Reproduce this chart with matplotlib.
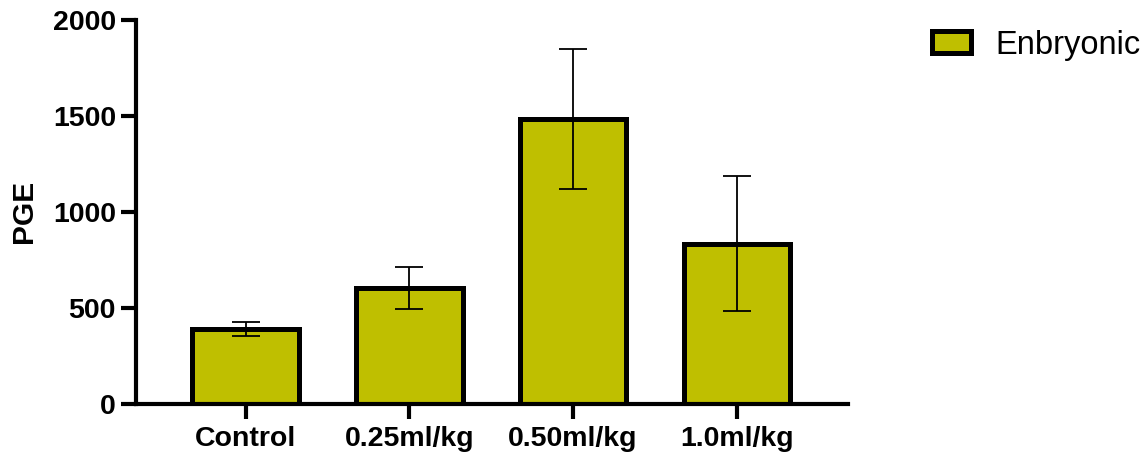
import numpy as np
import matplotlib.pyplot as plt

groups = ["Control", "0.25ml/kg", "0.50ml/kg", "1.0ml/kg"]
means = [390, 605, 1485, 835]
errors = [35, 110, 365, 350]
series_name = "Enbryonic"

plt.rcParams["font.family"] = ["Liberation Sans", "DejaVu Sans"]

fig = plt.figure(figsize=(11.43, 4.61), dpi=100)
ax = fig.add_axes([0.119, 0.1236, 0.623, 0.8334])

x = np.arange(len(groups))
bars = ax.bar(x, means, width=0.65, color="#bfbf00", edgecolor="black",
              linewidth=3.6, label=series_name, zorder=2)
ax.errorbar(x, means, yerr=errors, fmt="none", ecolor="black",
            elinewidth=1.3, capsize=10, capthick=1.3, zorder=3)

ax.set_xlim(-0.67, 3.68)
ax.set_ylim(0, 2000)
ax.set_yticks([0, 500, 1000, 1500, 2000])
ax.set_xticks(x)
ax.set_xticklabels(groups, fontsize=20.5, fontweight="bold")
for lbl in ax.get_yticklabels():
    lbl.set_fontsize(20.5)
    lbl.set_fontweight("bold")

for side in ["top", "right"]:
    ax.spines[side].set_visible(False)
for side in ["left", "bottom"]:
    ax.spines[side].set_linewidth(3)
ax.tick_params(axis="both", width=3, length=10.5)
ax.tick_params(axis="y", pad=4)
ax.tick_params(axis="x", pad=5)

ax.set_ylabel("PGE", fontsize=21.5, fontweight="bold")
ax.yaxis.set_label_coords(-0.137, 0.5)

fig.legend(handles=[bars], labels=[series_name], loc="center left",
           bbox_to_anchor=(0.8155, 0.902), frameon=False, fontsize=23.5,
           handlelength=1.2, handleheight=0.65, handletextpad=0.75,
           borderpad=0, borderaxespad=0)

fig.savefig("out.png", dpi=100)
